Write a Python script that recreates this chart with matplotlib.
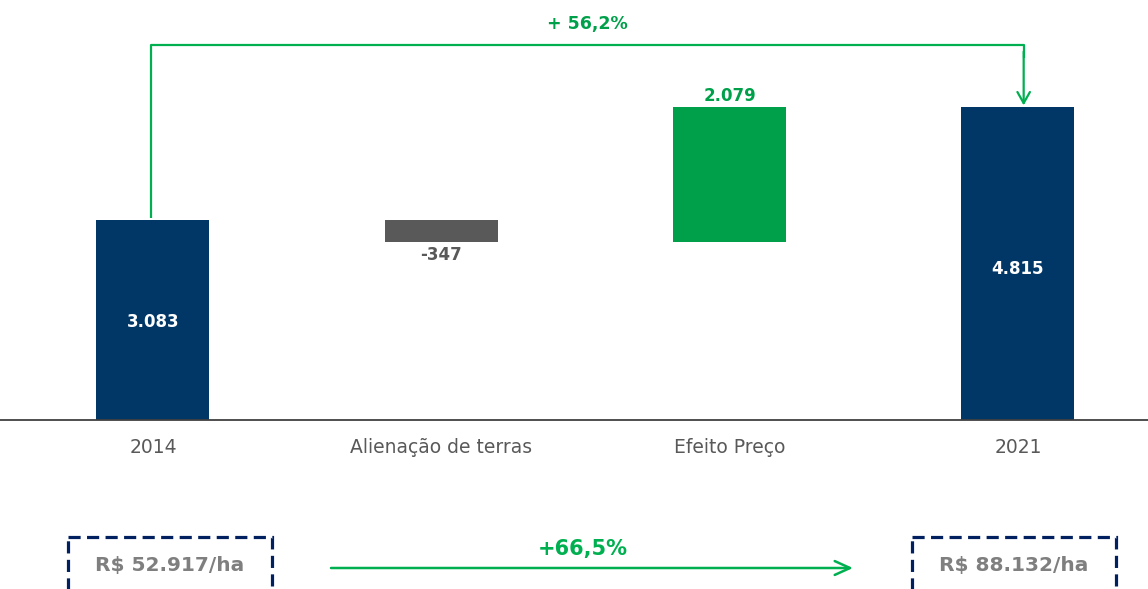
import matplotlib
matplotlib.use("Agg")
import matplotlib.pyplot as plt
from matplotlib.patches import Rectangle

# ---- data ----
categories = ["2014", "Alienação de terras", "Efeito Preço", "2021"]
values = [3083, -347, 2079, 4815]
value_labels = ["3.083", "-347", "2.079", "4.815"]
growth_label = "+ 56,2%"
price_start = "R$ 52.917/ha"
price_end = "R$ 88.132/ha"
price_growth = "+66,5%"

NAVY = "#003767"
GREEN_BAR = "#00A04A"
GRAY_BAR = "#595959"
GREEN_LINE = "#00B050"
TXT_GRAY = "#595959"

plt.rcParams['font.family'] = ['DejaVu Sans']

W, H = 1148, 589
fig = plt.figure(figsize=(W / 100, H / 100), dpi=100)

# main axes: baseline at y=420 px, top at 0 px
base_px = 420
ax = fig.add_axes([0, (H - base_px) / H, 1, base_px / H])
per_px = 15.4
ax.set_ylim(0, base_px * per_px)
spacing = 288.3
first_center = 153
ax.set_xlim(-first_center / spacing, (W - first_center) / spacing)

# waterfall computation
bottoms = []
heights = []
colors = []
running = 0
for i, v in enumerate(values):
    if i == 0 or i == len(values) - 1:
        bottoms.append(0)
        heights.append(v)
        colors.append(NAVY)
        running = v
    else:
        if v < 0:
            bottoms.append(running + v)
            heights.append(-v)
            colors.append(GRAY_BAR)
        else:
            bottoms.append(running)
            heights.append(v)
            colors.append(GREEN_BAR)
        running += v

xs = list(range(len(categories)))
bw = 113 / spacing
ax.bar(xs, heights, bottom=bottoms, width=bw, color=colors, zorder=2)

# value labels
ax.text(xs[0], heights[0] / 2 - 30, value_labels[0], ha="center", va="center",
        color="white", fontsize=12, fontweight="bold")
ax.text(xs[3], heights[3] / 2 - 80, value_labels[3], ha="center", va="center",
        color="white", fontsize=12, fontweight="bold")
ax.text(xs[1], bottoms[1] - 60, value_labels[1], ha="center", va="top",
        color=TXT_GRAY, fontsize=12, fontweight="bold")
ax.text(xs[2], bottoms[2] + heights[2] + 40, value_labels[2], ha="center", va="bottom",
        color=GREEN_BAR, fontsize=12, fontweight="bold")

# axes styling
for s in ["top", "right", "left"]:
    ax.spines[s].set_visible(False)
ax.spines["bottom"].set_color("#404040")
ax.spines["bottom"].set_linewidth(1.3)
ax.set_yticks([])
ax.set_xticks(xs)
ax.set_xticklabels(categories, color=TXT_GRAY, fontsize=13.5)
ax.tick_params(axis="x", length=0, pad=13)

# connector arrow 2014 -> 2021
top_y = (base_px - 45) * per_px
x0 = xs[0] - 0.007
x1 = xs[3] + 0.02
ax.plot([x0, x0, x1, x1], [values[0] + 30, top_y, top_y, top_y - 200],
        color=GREEN_LINE, lw=1.6, solid_capstyle="butt", zorder=3)
ax.annotate("", xy=(x1, values[3] + 30), xytext=(x1, top_y - 100),
            arrowprops=dict(arrowstyle="->,head_length=0.8,head_width=0.45",
                            color=GREEN_LINE, lw=1.6, shrinkA=0, shrinkB=0))
ax.text((xs[1] + xs[2]) / 2 + 0.005, top_y + 21 * per_px, growth_label, ha="center",
        va="center", color=GREEN_BAR, fontsize=12.5, fontweight="bold")

# bottom overlay in pixel coordinates
ov = fig.add_axes([0, 0, 1, 1], facecolor="none")
ov.set_xlim(0, W)
ov.set_ylim(H, 0)
ov.axis("off")

for (x_l, x_r, label) in [(68, 272, price_start), (912, 1116, price_end)]:
    r = Rectangle((x_l, 537), x_r - x_l, 80, fill=False, edgecolor="#002060",
                  lw=2.3, linestyle=(0, (3.8, 2.0)), clip_on=False)
    ov.add_patch(r)
    ov.text((x_l + x_r) / 2, 566, label, ha="center", va="center",
            color="#7F7F7F", fontsize=14.5, fontweight="bold")

ov.annotate("", xy=(853, 568), xytext=(331, 568),
            arrowprops=dict(arrowstyle="->,head_length=1.1,head_width=0.5",
                            color=GREEN_LINE, lw=1.8, shrinkA=0, shrinkB=0))
ov.text(583, 549, price_growth, ha="center", va="center", color=GREEN_LINE,
        fontsize=15, fontweight="bold")

fig.savefig("out.png", dpi=100)
